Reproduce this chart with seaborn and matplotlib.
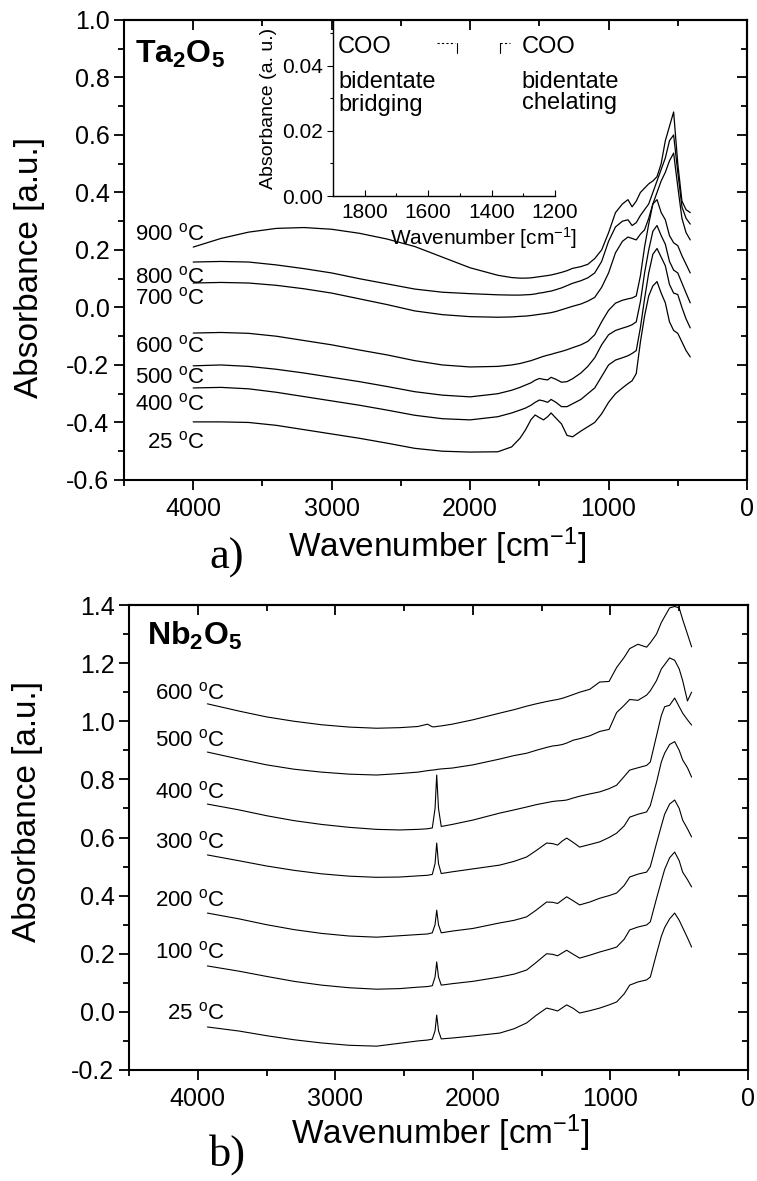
import matplotlib
matplotlib.use("Agg")
import matplotlib.pyplot as plt
from matplotlib.ticker import MultipleLocator, FormatStrFormatter
import pandas as pd
import seaborn as sns

# ---------------- a) Ta2O5 ----------------
wn_ta = [4000, 3800, 3600, 3400, 3200, 3000, 2800, 2600, 2400, 2200, 2000, 1800,
         1700, 1640, 1600, 1560, 1530, 1500, 1470, 1440, 1415, 1380, 1340, 1300, 1260,
         1200, 1150, 1100, 1050, 1000, 950, 900, 860, 830, 800, 770, 740, 710, 680,
         650, 620, 590, 560, 530, 500, 470, 440, 410]
ta_900 = [0.210, 0.240, 0.262, 0.275, 0.278, 0.272, 0.258, 0.238, 0.212, 0.175, 0.138, 0.112,
          0.104, 0.102, 0.102, 0.103, 0.105, 0.107, 0.109, 0.111, 0.113, 0.117, 0.122, 0.128, 0.136,
          0.142, 0.150, 0.170, 0.200, 0.260, 0.330, 0.360, 0.375, 0.350, 0.370, 0.400, 0.415, 0.430,
          0.440, 0.455, 0.500, 0.580, 0.630, 0.680, 0.500, 0.370, 0.340, 0.330]
ta_800 = [0.158, 0.160, 0.158, 0.148, 0.135, 0.120, 0.100, 0.082, 0.064, 0.053, 0.048, 0.044,
          0.043, 0.043, 0.044, 0.045, 0.047, 0.050, 0.052, 0.055, 0.057, 0.062, 0.068, 0.076, 0.084,
          0.093, 0.103, 0.120, 0.160, 0.230, 0.280, 0.300, 0.305, 0.285, 0.295, 0.320, 0.340, 0.360,
          0.400, 0.440, 0.480, 0.520, 0.580, 0.600, 0.470, 0.350, 0.310, 0.290]
ta_700 = [0.085, 0.087, 0.085, 0.077, 0.065, 0.050, 0.030, 0.010, -0.012, -0.025, -0.032, -0.034,
          -0.033, -0.031, -0.030, -0.028, -0.026, -0.024, -0.022, -0.020, -0.018, -0.014, -0.008, -0.002, 0.004,
          0.012, 0.022, 0.035, 0.070, 0.120, 0.190, 0.230, 0.245, 0.240, 0.235, 0.255, 0.270, 0.310,
          0.360, 0.400, 0.440, 0.470, 0.510, 0.537, 0.420, 0.310, 0.260, 0.235]
ta_600 = [-0.089, -0.087, -0.090, -0.100, -0.115, -0.130, -0.148, -0.165, -0.185, -0.200, -0.207, -0.205,
          -0.200, -0.195, -0.190, -0.185, -0.180, -0.175, -0.170, -0.166, -0.163, -0.158, -0.153, -0.147, -0.140,
          -0.130, -0.118, -0.095, -0.050, -0.010, 0.015, 0.025, 0.030, 0.033, 0.040, 0.110, 0.210, 0.290,
          0.360, 0.375, 0.330, 0.305, 0.250, 0.225, 0.215, 0.180, 0.150, 0.120]
ta_500 = [-0.203, -0.200, -0.205, -0.215, -0.228, -0.243, -0.258, -0.275, -0.293, -0.305, -0.311, -0.300,
          -0.288, -0.278, -0.270, -0.262, -0.253, -0.247, -0.250, -0.252, -0.243, -0.250, -0.260, -0.258, -0.248,
          -0.228, -0.205, -0.175, -0.130, -0.095, -0.080, -0.072, -0.066, -0.060, -0.050, 0.020, 0.120, 0.200,
          0.265, 0.285, 0.250, 0.220, 0.160, 0.130, 0.120, 0.085, 0.050, 0.016]
ta_400 = [-0.280, -0.278, -0.283, -0.295, -0.310, -0.325, -0.340, -0.357, -0.375, -0.387, -0.391, -0.380,
          -0.367, -0.357, -0.350, -0.340, -0.330, -0.322, -0.325, -0.330, -0.320, -0.330, -0.345, -0.345, -0.335,
          -0.320, -0.300, -0.280, -0.240, -0.200, -0.183, -0.175, -0.168, -0.160, -0.150, -0.070, 0.030, 0.120,
          0.185, 0.205, 0.175, 0.145, 0.080, 0.050, 0.045, 0.000, -0.040, -0.071]
ta_25 = [-0.398, -0.398, -0.400, -0.410, -0.425, -0.440, -0.455, -0.472, -0.490, -0.500, -0.503, -0.502,
         -0.485, -0.455, -0.426, -0.390, -0.374, -0.383, -0.391, -0.380, -0.367, -0.385, -0.405, -0.445, -0.450,
         -0.430, -0.415, -0.400, -0.370, -0.330, -0.300, -0.280, -0.265, -0.255, -0.230, -0.120, -0.030, 0.040,
         0.075, 0.090, 0.050, 0.016, -0.050, -0.080, -0.090, -0.120, -0.150, -0.172]
ta_temps = ["25", "400", "500", "600", "700", "800", "900"]
ta_series = [ta_25, ta_400, ta_500, ta_600, ta_700, ta_800, ta_900]

# ---------------- b) Nb2O5 ----------------
wn_nb = [3930, 3700, 3500, 3300, 3100, 2900, 2700, 2532,
         2400, 2330, 2295, 2275, 2263, 2250, 2230, 2150, 2000,
         1805, 1700, 1609, 1540, 1464, 1420, 1384, 1350, 1318, 1270, 1224, 1150, 1078,
         1010, 955, 900, 860, 800, 737, 710, 665, 630, 606, 570, 533, 500, 475, 440, 410]
nb_25 = [-0.052, -0.066, -0.082, -0.096, -0.107, -0.115, -0.118, -0.108,
         -0.100, -0.097, -0.094, -0.065, -0.011, -0.065, -0.093, -0.090, -0.083,
         -0.073, -0.058, -0.038, -0.012, 0.013, 0.008, 0.003, 0.014, 0.024, 0.012, -0.004, 0.004, 0.013,
         0.024, 0.034, 0.062, 0.092, 0.103, 0.110, 0.120, 0.200, 0.260, 0.290, 0.320, 0.340, 0.315, 0.290, 0.255, 0.223]
nb_100 = [0.158, 0.140, 0.122, 0.105, 0.092, 0.083, 0.078, 0.080,
          0.085, 0.087, 0.090, 0.120, 0.172, 0.120, 0.092, 0.097, 0.105,
          0.120, 0.130, 0.144, 0.170, 0.200, 0.198, 0.193, 0.203, 0.212, 0.198, 0.185, 0.195, 0.206,
          0.215, 0.223, 0.250, 0.282, 0.292, 0.299, 0.310, 0.390, 0.450, 0.490, 0.530, 0.550, 0.520, 0.481, 0.455, 0.430]
nb_200 = [0.340, 0.320, 0.300, 0.283, 0.270, 0.261, 0.257, 0.262,
          0.266, 0.268, 0.272, 0.300, 0.350, 0.300, 0.272, 0.278, 0.287,
          0.306, 0.315, 0.327, 0.350, 0.378, 0.377, 0.373, 0.385, 0.396, 0.382, 0.368, 0.378, 0.391,
          0.400, 0.409, 0.435, 0.464, 0.474, 0.481, 0.500, 0.580, 0.640, 0.680, 0.715, 0.729, 0.700, 0.660, 0.630, 0.602]
nb_300 = [0.540, 0.520, 0.502, 0.487, 0.475, 0.467, 0.463, 0.464,
          0.468, 0.470, 0.473, 0.510, 0.581, 0.510, 0.476, 0.482, 0.492,
          0.505, 0.518, 0.533, 0.555, 0.581, 0.579, 0.574, 0.588, 0.598, 0.583, 0.567, 0.576, 0.585,
          0.600, 0.615, 0.640, 0.670, 0.680, 0.688, 0.710, 0.790, 0.860, 0.890, 0.920, 0.930, 0.900, 0.867, 0.840, 0.808]
nb_400 = [0.715, 0.695, 0.675, 0.658, 0.645, 0.635, 0.628, 0.626,
          0.628, 0.630, 0.633, 0.700, 0.815, 0.700, 0.638, 0.645, 0.660,
          0.684, 0.695, 0.705, 0.713, 0.720, 0.724, 0.726, 0.727, 0.729, 0.736, 0.742, 0.750, 0.757,
          0.768, 0.780, 0.810, 0.832, 0.840, 0.848, 0.860, 0.950, 1.020, 1.050, 1.055, 1.080, 1.050, 1.028, 1.005, 0.987]
nb_500 = [0.894, 0.870, 0.850, 0.835, 0.825, 0.818, 0.815, 0.820,
          0.825, 0.830, 0.832, 0.833, 0.834, 0.835, 0.836, 0.839, 0.850,
          0.870, 0.882, 0.890, 0.900, 0.910, 0.915, 0.917, 0.920, 0.925, 0.935, 0.940, 0.950, 0.965,
          0.972, 1.030, 1.055, 1.075, 1.072, 1.090, 1.105, 1.140, 1.180, 1.195, 1.218, 1.210, 1.180, 1.140, 1.070, 1.100]
nb_600 = [1.060, 1.035, 1.015, 1.000, 0.988, 0.980, 0.976, 0.978,
          0.982, 0.990, 0.981, 0.981, 0.982, 0.983, 0.984, 0.990, 1.005,
          1.028, 1.040, 1.052, 1.060, 1.068, 1.072, 1.075, 1.079, 1.084, 1.092, 1.100, 1.110, 1.135,
          1.137, 1.185, 1.220, 1.250, 1.265, 1.255, 1.270, 1.300, 1.340, 1.360, 1.390, 1.395, 1.390, 1.350, 1.300, 1.256]
nb_temps = ["25", "100", "200", "300", "400", "500", "600"]
nb_series = [nb_25, nb_100, nb_200, nb_300, nb_400, nb_500, nb_600]


def long_frame(wn, temps, series):
    parts = [pd.DataFrame({"wn": wn, "absorbance": s, "temp": t}) for t, s in zip(temps, series)]
    return pd.concat(parts, ignore_index=True)


df_ta = long_frame(wn_ta, ta_temps, ta_series)
df_nb = long_frame(wn_nb, nb_temps, nb_series)

sns.set_style("ticks")
plt.rcParams["font.family"] = ["Liberation Sans", "DejaVu Sans"]
plt.rcParams["mathtext.fontset"] = "custom"
plt.rcParams["mathtext.rm"] = "Liberation Sans"
plt.rcParams["mathtext.it"] = "Liberation Sans:italic"
plt.rcParams["mathtext.bf"] = "Liberation Sans:bold"
plt.rcParams["axes.unicode_minus"] = False
for key in ("text.color", "axes.labelcolor", "xtick.color", "ytick.color", "axes.edgecolor"):
    plt.rcParams[key] = "black"

fig = plt.figure(figsize=(7.57, 11.81), dpi=100)
ax_a = fig.add_axes([0.1638, 0.5936, 0.823, 0.3895])
ax_b = fig.add_axes([0.1704, 0.0940, 0.8177, 0.3937])


def style_axes(ax, ylo, yhi, tick_size=18):
    ax.set_xlim(4500, 0)
    ax.set_ylim(ylo, yhi)
    ax.xaxis.set_major_locator(MultipleLocator(1000))
    ax.xaxis.set_minor_locator(MultipleLocator(500))
    ax.yaxis.set_major_locator(MultipleLocator(0.2))
    ax.yaxis.set_minor_locator(MultipleLocator(0.1))
    ax.yaxis.set_major_formatter(FormatStrFormatter("%.1f"))
    for sp in ax.spines.values():
        sp.set_linewidth(1.5)
        sp.set_color("black")
    ax.tick_params(which="both", direction="out", width=1.3, colors="black",
                   labelsize=tick_size, top=False, right=False)
    ax.tick_params(which="major", length=7)
    ax.tick_params(which="minor", length=4)
    ax.tick_params(axis="x", which="major", pad=5)
    # top and right ticks point inward
    top = ax.secondary_xaxis("top")
    top.xaxis.set_major_locator(MultipleLocator(1000))
    top.xaxis.set_minor_locator(MultipleLocator(500))
    top.tick_params(which="both", direction="in", width=1.3, labeltop=False)
    top.tick_params(which="major", length=7)
    top.tick_params(which="minor", length=4)
    right = ax.secondary_yaxis("right")
    right.yaxis.set_major_locator(MultipleLocator(0.2))
    right.yaxis.set_minor_locator(MultipleLocator(0.1))
    right.tick_params(which="both", direction="in", width=1.3, labelright=False)
    right.tick_params(which="major", length=7)
    right.tick_params(which="minor", length=4)
    for sec in (top, right):
        for sp in sec.spines.values():
            sp.set_linewidth(1.5)


# ---- panel a ----
sns.lineplot(data=df_ta, x="wn", y="absorbance", units="temp", estimator=None,
             sort=False, color="black", lw=0.9, ax=ax_a)
style_axes(ax_a, -0.6, 1.0)
ax_a.set_xlabel("Wavenumber [cm$^{\\mathregular{-1}}$]", fontsize=24)
ax_a.set_ylabel("Absorbance [a.u.]", fontsize=24)
ax_a.xaxis.set_label_coords(0.502, -0.098)
ax_a.yaxis.set_label_coords(-0.127, 0.461)

ta_label_y = [-0.490, -0.357, -0.264, -0.157, 0.009, 0.085, 0.232]
for t, yv in zip(ta_temps, ta_label_y):
    ax_a.text(3915, yv, t + " $^{\\mathregular{o}}$C", ha="right", va="baseline", fontsize=16)
ax_a.text(4420, 0.85, "Ta$_\\mathbf{2}$O$_\\mathbf{5}$", fontsize=23, fontweight="bold",
          ha="left", va="baseline")

# inset (empty frame with carboxylate labels)
ax_in = fig.add_axes([0.440, 0.834, 0.293, 0.149])
ax_in.patch.set_alpha(0)
ax_in.set_xlim(1900, 1200)
ax_in.set_ylim(0, 0.054)
ax_in.xaxis.set_major_locator(MultipleLocator(200))
ax_in.xaxis.set_minor_locator(MultipleLocator(100))
ax_in.yaxis.set_major_locator(MultipleLocator(0.02))
ax_in.yaxis.set_minor_locator(MultipleLocator(0.01))
ax_in.yaxis.set_major_formatter(FormatStrFormatter("%.2f"))
ax_in.spines["top"].set_visible(False)
ax_in.spines["right"].set_visible(False)
for side in ("left", "bottom"):
    ax_in.spines[side].set_linewidth(1.0)
ax_in.tick_params(axis="x", which="both", direction="in", labelsize=15, width=0.8, pad=5)
ax_in.tick_params(axis="y", which="both", direction="out", labelsize=15, width=0.8)
ax_in.tick_params(which="major", length=4)
ax_in.tick_params(which="minor", length=2)
ax_in.set_xlabel("Wavenumber [cm$^{\\mathregular{-1}}$]", fontsize=15)
ax_in.xaxis.set_label_coords(0.68, -0.165)
ax_in.set_ylabel("Absorbance (a. u.)", fontsize=14, labelpad=3)
for txt, yv in zip(["COO", "bidentate", "bridging"], [0.0457, 0.0350, 0.0280]):
    ax_in.text(1884, yv, txt, fontsize=17, ha="left", va="center")
for txt, yv in zip(["COO", "bidentate", "chelating"], [0.0457, 0.0350, 0.0285]):
    ax_in.text(1304, yv, txt, fontsize=17, ha="left", va="center", clip_on=False)
ax_in.plot([1572, 1515], [0.0469, 0.0469], color="black", lw=0.8, ls=(0, (2, 2)))
ax_in.plot([1509, 1509], [0.0469, 0.0439], color="black", lw=0.8)
ax_in.plot([1373, 1373], [0.0469, 0.0439], color="black", lw=0.8)
ax_in.plot([1373, 1342], [0.0469, 0.0469], color="black", lw=0.8, ls=(0, (2, 2)))

# ---- panel b ----
sns.lineplot(data=df_nb, x="wn", y="absorbance", units="temp", estimator=None,
             sort=False, color="black", lw=0.8, ax=ax_b)
style_axes(ax_b, -0.2, 1.4)
ax_b.set_xlabel("Wavenumber [cm$^{\\mathregular{-1}}$]", fontsize=24)
ax_b.set_ylabel("Absorbance [a.u.]", fontsize=24)
ax_b.xaxis.set_label_coords(0.502, -0.092)
ax_b.yaxis.set_label_coords(-0.139, 0.555)

nb_label_y = [-0.026, 0.184, 0.364, 0.563, 0.735, 0.912, 1.075]
for t, yv in zip(nb_temps, nb_label_y):
    ax_b.text(3802, yv, t + " $^{\\mathregular{o}}$C", ha="right", va="baseline", fontsize=16)
ax_b.text(4369, 1.262, "Nb$_\\mathbf{2}$O$_\\mathbf{5}$", fontsize=23, fontweight="bold",
          ha="left", va="baseline")

fig.text(227 / 757, 1 - 558 / 1181, "a)", family=["Liberation Serif", "DejaVu Serif"],
         fontsize=32, ha="center", va="center")
fig.text(228 / 757, 1 - 1155 / 1181, "b)", family=["Liberation Serif", "DejaVu Serif"],
         fontsize=32, ha="center", va="center")

fig.savefig("out.png", dpi=100)
